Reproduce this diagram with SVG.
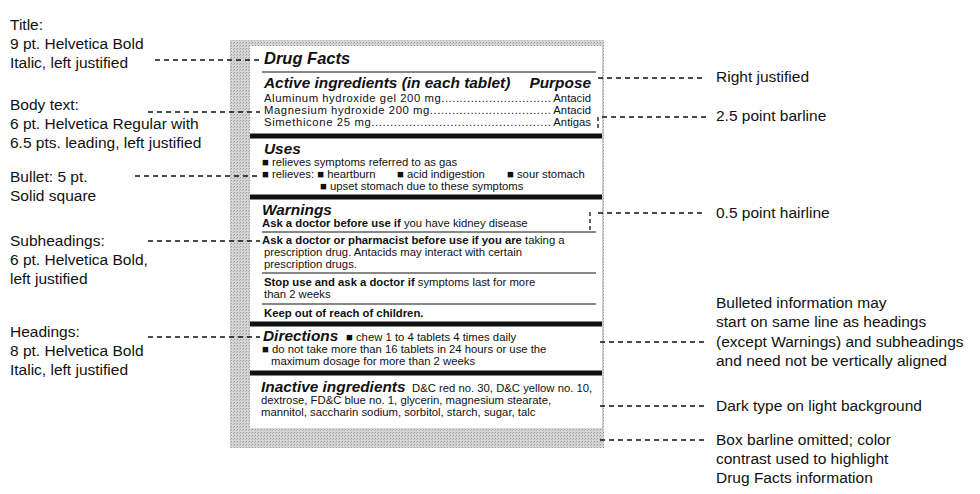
<svg xmlns="http://www.w3.org/2000/svg" width="980" height="494" viewBox="0 0 980 494">
<defs>
<pattern id="g" width="3" height="3" patternUnits="userSpaceOnUse"><rect width="3" height="3" fill="#d6d6d6"/><rect width="1" height="1" fill="#9a9a9a"/><rect x="2" y="1" width="1" height="1" fill="#b0b0b0"/></pattern>
</defs>
<style>
text{font-family:"Liberation Sans",Arial,sans-serif;fill:#111}
.a{font-size:15.5px}
.h{font-weight:bold;font-style:italic;font-size:15.4px}
.b{font-size:11.3px}
.sb{font-size:11.3px;font-weight:bold}
.d{stroke:#111;stroke-width:1.3;stroke-dasharray:5,4;fill:none}
.thin{stroke:#111;stroke-width:1}
.thick{stroke:#111;stroke-width:5}
</style>
<rect width="980" height="494" fill="#fff"/>
<g id="label">
<rect x="230" y="40" width="374" height="408" fill="url(#g)"/>
<rect x="250" y="46" width="352" height="382" fill="#fff"/>
<line class="thin" x1="262" y1="72" x2="596" y2="72"/>
<line class="thick" x1="250" y1="136" x2="602" y2="136"/>
<line class="thick" x1="250" y1="197" x2="602" y2="197"/>
<line class="thin" x1="262" y1="232" x2="596" y2="232"/>
<line class="thin" x1="262" y1="273" x2="596" y2="273"/>
<line class="thin" x1="262" y1="304" x2="596" y2="304"/>
<line class="thick" x1="250" y1="324" x2="602" y2="324"/>
<line class="thick" x1="250" y1="373" x2="602" y2="373"/>
<text x="264" y="64" style="font-size:16.5px;font-weight:bold;font-style:italic">Drug Facts</text>
<text x="264" y="88" class="h">Active ingredients (in each tablet)</text>
<text x="591" y="88" class="h" text-anchor="end">Purpose</text>
<text x="264" y="102" class="b" textLength="287" lengthAdjust="spacing">Aluminum hydroxide gel  200 mg..............................</text>
<text x="591" y="102" class="b" text-anchor="end">Antacid</text>
<text x="264" y="114" class="b" textLength="287" lengthAdjust="spacing">Magnesium hydroxide 200 mg.................................</text>
<text x="591" y="114" class="b" text-anchor="end">Antacid</text>
<text x="264" y="126" class="b" textLength="287" lengthAdjust="spacing">Simethicone 25 mg................................................</text>
<text x="591" y="126" class="b" text-anchor="end">Antigas</text>
<text x="264" y="154" class="h">Uses</text>
<text x="262" y="166" class="b">■ relieves symptoms referred to as gas</text>
<text x="262" y="178" class="b">■ relieves: ■ heartburn</text>
<text x="397" y="178" class="b">■ acid indigestion</text>
<text x="507" y="178" class="b">■ sour stomach</text>
<text x="320" y="190" class="b">■ upset stomach due to these symptoms</text>
<text x="262" y="215" class="h">Warnings</text>
<text x="262" y="227" class="b"><tspan font-weight="bold">Ask a doctor before use if</tspan> you have kidney disease</text>
<text x="262" y="244" class="b"><tspan font-weight="bold">Ask a doctor or pharmacist before use if you are</tspan> taking a</text>
<text x="264" y="256" class="b">prescription drug.   Antacids may interact with certain</text>
<text x="264" y="268" class="b">prescription drugs.</text>
<text x="264" y="286" class="b"><tspan font-weight="bold">Stop use and ask a doctor if</tspan> symptoms last for more</text>
<text x="264" y="298" class="b">than 2 weeks</text>
<text x="264" y="317" class="sb">Keep out of reach of children.</text>
<text x="263" y="341" class="h">Directions</text>
<text x="346" y="341" class="b">■ chew 1 to 4 tablets 4 times daily</text>
<text x="262" y="353" class="b">■ do not take more than 16 tablets in 24 hours or use the</text>
<text x="271" y="365" class="b">maximum dosage for more than 2 weeks</text>
<text x="261" y="392" class="h">Inactive ingredients</text>
<text x="412" y="392" class="b">D&amp;C red no. 30, D&amp;C yellow no. 10,</text>
<text x="261" y="404" class="b">dextrose, FD&amp;C blue no. 1, glycerin, magnesium stearate,</text>
<text x="261" y="416" class="b">mannitol, saccharin sodium, sorbitol, starch, sugar, talc</text>
</g>
<g id="connectors">
<line class="d" x1="155" y1="60" x2="260" y2="60"/>
<line class="d" x1="148" y1="112" x2="260" y2="112"/>
<line class="d" x1="135" y1="176" x2="260" y2="176"/>
<line class="d" x1="148" y1="241" x2="260" y2="241"/>
<line class="d" x1="148" y1="337" x2="260" y2="337"/>
<line class="d" x1="598" y1="78" x2="706" y2="78"/>
<line class="d" x1="602" y1="117" x2="706" y2="117"/>
<line class="d" x1="598" y1="117" x2="598" y2="131" style="stroke-dasharray:4,3"/>
<line class="d" x1="598" y1="213" x2="706" y2="213"/>
<line class="d" x1="590" y1="212" x2="590" y2="230" style="stroke-dasharray:4,3"/>
<line class="d" x1="600" y1="342" x2="706" y2="342"/>
<line class="d" x1="600" y1="406" x2="706" y2="406"/>
<line class="d" x1="600" y1="440" x2="706" y2="440"/>
</g>
<g id="notes-left">
<text class="a" x="10" y="30">Title:</text>
<text class="a" x="10" y="49">9 pt. Helvetica Bold</text>
<text class="a" x="10" y="68">Italic, left justified</text>
<text class="a" x="10" y="110">Body text:</text>
<text class="a" x="10" y="129">6 pt. Helvetica Regular with</text>
<text class="a" x="10" y="148">6.5 pts. leading, left justified</text>
<text class="a" x="10" y="182">Bullet: 5 pt.</text>
<text class="a" x="10" y="201">Solid square</text>
<text class="a" x="10" y="246">Subheadings:</text>
<text class="a" x="10" y="265">6 pt. Helvetica Bold,</text>
<text class="a" x="10" y="284">left justified</text>
<text class="a" x="10" y="337">Headings:</text>
<text class="a" x="10" y="356">8 pt. Helvetica Bold</text>
<text class="a" x="10" y="375">Italic, left justified</text>
</g>
<g id="notes-right">
<text class="a" x="716" y="82">Right justified</text>
<text class="a" x="716" y="121">2.5 point barline</text>
<text class="a" x="716" y="218">0.5 point hairline</text>
<text class="a" x="716" y="308">Bulleted information may</text>
<text class="a" x="716" y="327">start on same line as headings</text>
<text class="a" x="716" y="347">(except Warnings) and subheadings</text>
<text class="a" x="716" y="366">and need not be vertically aligned</text>
<text class="a" x="716" y="411">Dark type on light background</text>
<text class="a" x="716" y="445">Box barline omitted; color</text>
<text class="a" x="716" y="464">contrast used to highlight</text>
<text class="a" x="716" y="483">Drug Facts information</text>
</g>
</svg>
